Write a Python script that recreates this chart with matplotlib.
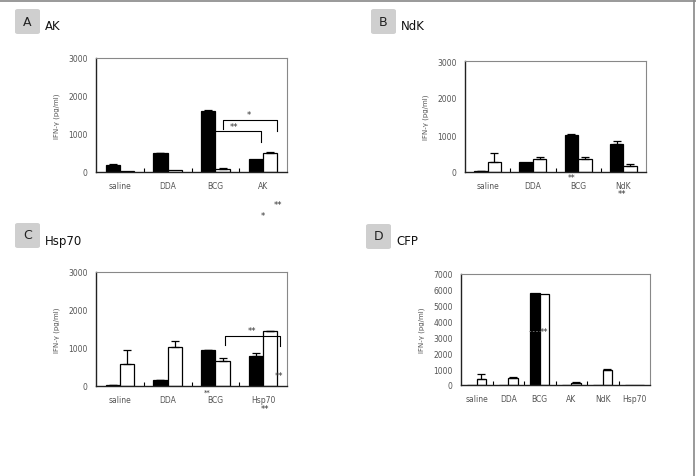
import numpy as np
import matplotlib
matplotlib.use("Agg")
import matplotlib.pyplot as plt
from matplotlib.patches import FancyBboxPatch
from matplotlib.lines import Line2D

W, H = 696, 477

# panel A - AK
cats_a = ["saline", "DDA", "BCG", "AK"]
black_a = [180, 490, 1600, 340]
black_err_a = [20, 20, 30, 0]
white_a = [20, 60, 80, 500]
white_err_a = [0, 0, 20, 20]

# panel B - NdK
cats_b = ["saline", "DDA", "BCG", "NdK"]
black_b = [30, 280, 1000, 750]
black_err_b = [10, 0, 15, 75]
white_b = [280, 360, 360, 150]
white_err_b = [225, 40, 40, 60]

# panel C - Hsp70
cats_c = ["saline", "DDA", "BCG", "Hsp70"]
black_c = [20, 150, 940, 780]
black_err_c = [10, 15, 10, 80]
white_c = [590, 1030, 665, 1440]
white_err_c = [370, 150, 65, 15]

# panel D - CFP
cats_d = ["saline", "DDA", "BCG", "AK", "NdK", "Hsp70"]
black_d = [0, 0, 5780, 0, 0, 0]
black_err_d = [0, 0, 0, 0, 0, 0]
white_d = [370, 450, 5750, 100, 960, 10]
white_err_d = [320, 70, 0, 90, 20, 0]

TXT = "#555555"


def px_axes(fig, l, t, r, b):
    return fig.add_axes([l / W, 1 - b / H, (r - l) / W, (b - t) / H])


def fig_text(fig, x, y, s, **kw):
    fig.text(x / W, 1 - y / H, s, **kw)


def draw_panel(fig, box, cats, black, black_err, white, white_err, ymax, ystep):
    ax = px_axes(fig, *box)
    n = len(cats)
    x = np.arange(n) + 0.5
    bw = 0.3
    ax.bar(x - bw / 2, black, bw, color="black", edgecolor="black", linewidth=0.9)
    ax.bar(x + bw / 2, white, bw, color="white", edgecolor="black", linewidth=0.9)
    for xi, v, e in zip(x - bw / 2, black, black_err):
        if e > 0:
            ax.errorbar(xi, v, yerr=[[0], [e]], color="black", capsize=3, lw=0.9, capthick=0.9)
    for xi, v, e in zip(x + bw / 2, white, white_err):
        if e > 0:
            ax.errorbar(xi, v, yerr=[[0], [e]], color="black", capsize=3, lw=0.9, capthick=0.9)
    ax.set_xlim(0, n)
    ax.set_ylim(0, ymax)
    ax.set_yticks(np.arange(0, ymax + 1, ystep))
    ax.set_xticks(x)
    ax.set_xticklabels(cats)
    ax.set_xticks(np.arange(1, n), minor=True)
    ax.tick_params(axis="x", which="major", length=0, pad=6.5, labelsize=5.5, labelcolor=TXT)
    ax.tick_params(axis="x", which="minor", length=3, direction="in", width=0.8)
    ax.tick_params(axis="y", length=0, pad=6, labelsize=5.5, labelcolor=TXT)
    ax.set_ylabel("IFN-γ (pg/ml)", fontsize=5, color=TXT, labelpad=6)
    for s in ["left", "bottom"]:
        ax.spines[s].set_color("#222222")
        ax.spines[s].set_linewidth(1.0)
    for s in ["top", "right"]:
        ax.spines[s].set_color("#888888")
        ax.spines[s].set_linewidth(0.8)
    return ax


def panel_label(fig, x, y, letter, name):
    box = FancyBboxPatch((x / W, 1 - (y + 25) / H), 25 / W, 25 / H,
                         boxstyle="round,pad=0,rounding_size=0.004",
                         transform=fig.transFigure, facecolor="#cfcfcf",
                         edgecolor="none")
    fig.add_artist(box)
    fig_text(fig, x + 12.5, y + 12, letter, fontsize=9, ha="center", va="center", color="#222222")
    fig_text(fig, x + 30, y + 17, name, fontsize=8.5, ha="left", va="center", color="#111111")


def bracket(ax, x1, y1a, x2, y2a, ytop):
    ax.plot([x1, x1, x2, x2], [y1a, ytop, ytop, y2a], color="black", lw=0.8)


fig = plt.figure(figsize=(W / 100, H / 100), dpi=100)

# panel A
ax_a = draw_panel(fig, (96, 59, 287, 173), cats_a, black_a, black_err_a, white_a, white_err_a, 3000, 1000)
bracket(ax_a, 2.65, 1130, 3.8, 1090, 1380)
ax_a.text(3.2, 1390, "*", fontsize=6, ha="center", va="bottom", color="#333333")
bracket(ax_a, 2.5, 1070, 3.45, 790, 1070)
ax_a.text(2.9, 1075, "**", fontsize=6, ha="center", va="bottom", color="#333333")
fig_text(fig, 278, 206, "**", fontsize=6, ha="center", va="center", color="#333333")
fig_text(fig, 263, 217, "*", fontsize=6, ha="center", va="center", color="#333333")
panel_label(fig, 15, 10, "A", "AK")

# panel B
ax_b = draw_panel(fig, (465, 62, 646, 173), cats_b, black_b, black_err_b, white_b, white_err_b, 3000, 1000)
fig_text(fig, 572, 178.5, "**", fontsize=5.5, ha="center", va="center", color="#333333")
fig_text(fig, 622, 195, "**", fontsize=6, ha="center", va="center", color="#333333")
panel_label(fig, 371, 10, "B", "NdK")

# panel C
ax_c = draw_panel(fig, (96, 273, 287, 387), cats_c, black_c, black_err_c, white_c, white_err_c, 3000, 1000)
bracket(ax_c, 2.7, 1080, 3.85, 1050, 1320)
ax_c.text(3.27, 1330, "**", fontsize=6, ha="center", va="bottom", color="#333333")
fig_text(fig, 279, 377, "**", fontsize=6, ha="center", va="center", color="#333333")
fig_text(fig, 265, 410, "**", fontsize=6, ha="center", va="center", color="#333333")
fig_text(fig, 207, 393, "**", fontsize=5, ha="center", va="center", color="#333333")
panel_label(fig, 15, 224, "C", "Hsp70")

# panel D
ax_d = draw_panel(fig, (461, 275, 650, 386), cats_d, black_d, black_err_d, white_d, white_err_d, 7000, 1000)
ax_d.plot([2.15, 2.5], [3400, 3400], color="#777777", lw=0.6, ls=(0, (2, 2)))
ax_d.text(2.65, 3400, "**", fontsize=6, ha="center", va="center", color="#333333")
panel_label(fig, 366, 225, "D", "CFP")

# outer frame lines
fig.add_artist(Line2D([0, 1], [1 - 1.5 / H, 1 - 1.5 / H], transform=fig.transFigure, color="#888888", lw=1.2))
fig.add_artist(Line2D([1 - 2.5 / W, 1 - 2.5 / W], [0, 1], transform=fig.transFigure, color="#888888", lw=1.2))

fig.savefig("out.png", dpi=100)
